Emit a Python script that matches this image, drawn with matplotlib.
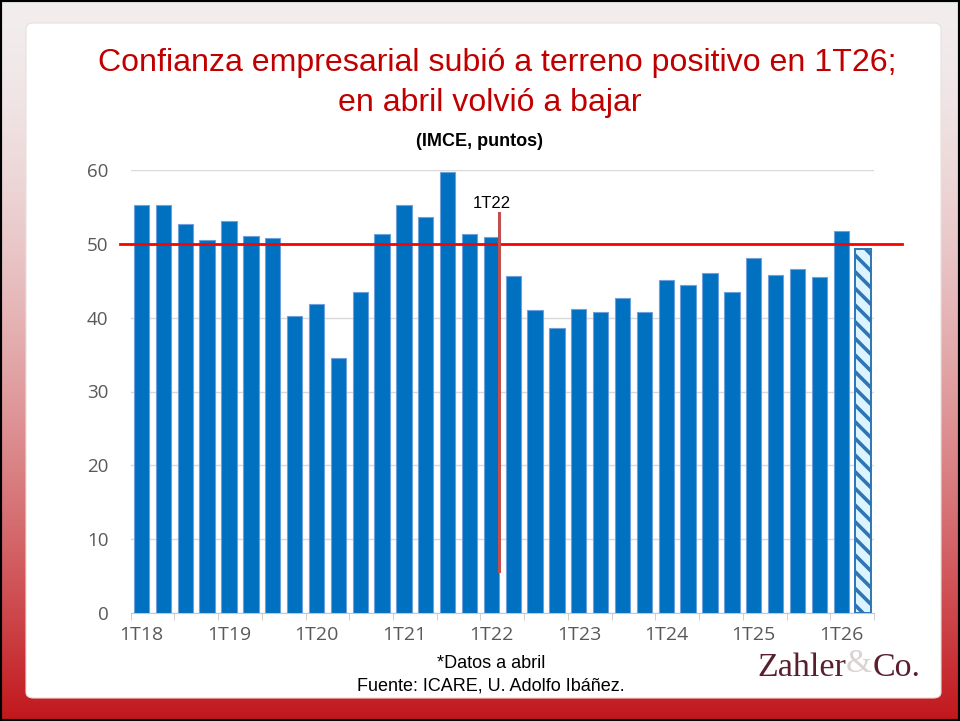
import numpy as np
import matplotlib
matplotlib.use("Agg")
import matplotlib.pyplot as plt
from matplotlib.patches import FancyBboxPatch, Rectangle

# IMCE, puntos (trimestral, 1T18 .. 1T26, + abril 2026)
valores = [55.3, 55.3, 52.7, 50.5, 53.1, 51.1, 50.8, 40.2, 41.9, 34.5,
           43.5, 51.3, 55.3, 53.6, 59.7, 51.3, 50.9, 45.6, 41.0, 38.6,
           41.2, 40.8, 42.7, 40.8, 45.1, 44.4, 46.0, 43.5, 48.1, 45.8,
           46.6, 45.5, 51.7, 49.3]
etiquetas = ["1T18", "1T19", "1T20", "1T21", "1T22", "1T23", "1T24", "1T25", "1T26"]
umbral = 50
marca_x = 16.35   # linea vertical despues de 1T22
marca_y = (5.7, 54.2)

plt.rcParams['font.family'] = ['Liberation Sans', 'DejaVu Sans']
plt.rcParams['hatch.color'] = '#1f3864'
plt.rcParams['hatch.linewidth'] = 2.6

fig = plt.figure(figsize=(9.6, 7.21), dpi=100)

# fondo degradado tipo diapositiva
bg = fig.add_axes([0, 0, 1, 1], zorder=-10)
grad = np.linspace(0, 1, 256)[:, None]
top = np.array([0.95, 0.93, 0.93])
bot = np.array([0.76, 0.09, 0.11])
w = grad ** 1.6
img = (1 - w)[..., None] * top + w[..., None] * bot
bg.imshow(img, aspect='auto', extent=[0, 1, 0, 1], origin='upper')
bg.set_xlim(0, 1)
bg.set_ylim(0, 1)
bg.axis('off')
panel = FancyBboxPatch((26 / 960, 1 - 698 / 721), (941 - 26) / 960, (698 - 23) / 721,
                       boxstyle="round,pad=0,rounding_size=0.008",
                       fc='white', ec='#e6e0e0', lw=0.8, transform=bg.transAxes)
bg.add_patch(panel)
bg.add_patch(Rectangle((0, 0), 1, 1, fill=False, ec='black', lw=3, transform=bg.transAxes))

ax = fig.add_axes([130.6 / 960, 1 - 613 / 721, (874 - 130.6) / 960, (613 - 170) / 721])
ax.set_facecolor('none')
x = np.arange(len(valores))
ax.bar(x[:-1], valores[:-1], width=0.7, color='#0070c0', edgecolor='#6fa0dc', lw=0.8, zorder=3)
ax.bar(x[-1], valores[-1], width=0.7, color='#dcf4ff', edgecolor='#2e75b6', lw=1.4,
       hatch='\\\\', zorder=3)

ax.set_xlim(-0.5, len(valores) - 0.5)
ax.set_ylim(0, 60)
ax.set_yticks(range(0, 61, 10))
ax.grid(axis='y', color='#d9d9d9', lw=1, zorder=0)
for s in ['top', 'right', 'left']:
    ax.spines[s].set_visible(False)
ax.spines['bottom'].set_color('#c8c8c8')
ax.tick_params(axis='y', length=0, pad=16, labelsize=13.5, labelcolor='#595959')
ax.set_xticks(x[::4][:len(etiquetas)])
ax.set_xticklabels(etiquetas)
ax.set_xticks(np.arange(-0.5, len(valores), 2), minor=True)
ax.tick_params(axis='x', which='major', length=0, pad=9, labelsize=14, labelcolor='#595959')
ax.tick_params(axis='x', which='minor', length=5, color='#c8c8c8')
for lab in ax.get_xticklabels() + ax.get_yticklabels():
    lab.set_family(['Open Sans', 'DejaVu Sans'])

ax.plot([-0.98, 34.8], [umbral, umbral], color='#ff0000', lw=2.0, clip_on=False, zorder=5)
ax.plot([marca_x, marca_x], marca_y, color='#c0504d', lw=2.2, zorder=5)
ax.text(marca_x - 0.35, 54.5, "1T22", ha='center', va='bottom', fontsize=12, zorder=6)

fig.text(497 / 960, 1 - 63 / 721, "Confianza empresarial subió a terreno positivo en 1T26;",
         ha='center', va='center', color='#c00000', fontsize=23.1)
fig.text(490 / 960, 1 - 103 / 721, "en abril volvió a bajar",
         ha='center', va='center', color='#c00000', fontsize=23.1)
fig.text(0.50, 1 - 141 / 721, "(IMCE, puntos)", ha='center', va='center',
         fontsize=13, fontweight='bold')
fig.text(491 / 960, 1 - 664 / 721, "*Datos a abril", ha='center', va='center', fontsize=13)
fig.text(491 / 960, 1 - 686 / 721, "Fuente: ICARE, U. Adolfo Ibáñez.", ha='center', va='center', fontsize=13)

# logo
fig.text(846 / 960, 1 - 664 / 721, "&", ha='left', va='center', fontsize=24,
         family='Liberation Serif', color='#d9d3d3')
fig.text(846 / 960, 1 - 668 / 721, "Zahler", ha='right', va='center', fontsize=24.5,
         family='Liberation Serif', color='#5a1f2e')
fig.text(873 / 960, 1 - 668 / 721, "Co.", ha='left', va='center', fontsize=24.5,
         family='Liberation Serif', color='#5a1f2e')

fig.savefig("out.png", dpi=100)
